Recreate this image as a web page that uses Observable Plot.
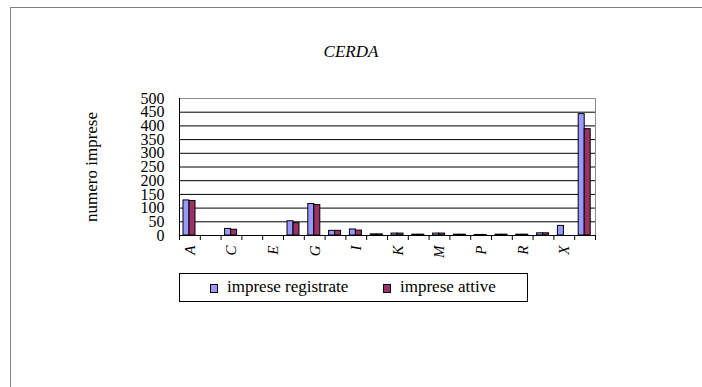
<!DOCTYPE html>
<html>
<head>
<meta charset="utf-8">
<script src="https://cdn.jsdelivr.net/npm/d3@7"></script>
<script src="https://cdn.jsdelivr.net/npm/@observablehq/plot@0.6"></script>
<style>
  html, body { margin: 0; padding: 0; background: #fff; }
  body { width: 702px; height: 387px; position: relative; overflow: hidden; }
  .serif { font-family: "Liberation Serif", "DejaVu Serif", serif; color: #000; }
  #frame { position: absolute; left: 10px; top: 7px; width: 720px; height: 400px; border-left: 1px solid #808080; border-top: 1px solid #808080; }
  #title { position: absolute; left: 0; top: 42px; width: 702px; text-align: center; font-style: italic; font-size: 17px; }
  #ylabel { position: absolute; left: 92px; top: 167px; transform: translate(-50%, -50%) rotate(-90deg); white-space: nowrap; font-size: 17px; }
  #chart { position: absolute; left: 0; top: 0; }
  #legend { position: absolute; left: 179px; top: 273px; width: 347px; height: 27px; border: 1px solid #000; font-size: 17px; }
  .item { position: absolute; top: 3px; line-height: 20px; white-space: nowrap; }
  .sw { position: absolute; width: 6px; height: 7px; border: 1px solid #000; top: 10px; }
</style>
</head>
<body>
<div id="frame"></div>
<div id="title" class="serif">CERDA</div>
<div id="ylabel" class="serif">numero imprese</div>
<div id="chart"></div>
<div id="legend" class="serif"></div>
<script>
const categories = ["A","B","C","D","E","F","G","H","I","J","K","L","M","N","P","Q","R","S","X","Totale"];
const registrate = [128,0,24,0,0,52,115,17,22,4,7,3,7,3,2,3,3,8,35,443];
const attive     = [126,0,21,0,0,45,111,17,18,4,7,3,7,3,2,3,3,8,0,388];
const tickLabels = ["A","C","E","G","I","K","M","P","R","X"];
const yTicks = [0,50,100,150,200,250,300,350,400,450,500];
const seriesNames = ["imprese registrate","imprese attive"];
const seriesColors = ["#9999FF","#993366"];

const W = 702, H = 270, mL = 179, mR = 107, mT = 98, mB = 35;
const half = (W - mL - mR) / categories.length / 2;

const rows = categories.map((c, i) => ({cat: c, reg: registrate[i], att: attive[i]}));

const chart = Plot.plot({
  width: W, height: H,
  marginLeft: mL, marginRight: mR, marginTop: mT, marginBottom: mB,
  style: {fontFamily: "Liberation Serif, DejaVu Serif, serif", background: "transparent", color: "#000"},
  x: {domain: categories, padding: 0, round: false, axis: null},
  y: {domain: [0, 500], axis: null},
  marks: [
    Plot.gridY(yTicks.filter(v => v > 0 && v < 500), {stroke: "#000", strokeOpacity: 1}),
    Plot.frame({stroke: "#8c8c8c"}),
    Plot.barY(rows.filter(d => d.reg > 0), {x: "cat", y: "reg", fill: seriesColors[0], stroke: "#000", strokeWidth: 1, insetLeft: 4, insetRight: 2 * half - 10}),
    Plot.barY(rows.filter(d => d.att > 0), {x: "cat", y: "att", fill: seriesColors[1], stroke: "#000", strokeWidth: 1, insetLeft: 10, insetRight: 2 * half - 16}),
    Plot.ruleY([0], {stroke: "#000"}),
    Plot.ruleX([categories[0]], {y1: 0, y2: 500, dx: -half, stroke: "#000"}),
    Plot.axisX(categories, {tickSize: 5, text: null, dx: -half, stroke: "#000", label: null}),
    Plot.axisX([categories[categories.length - 1]], {tickSize: 5, text: null, dx: half, stroke: "#000", label: null}),
    Plot.axisX(tickLabels, {tickSize: 0, tickPadding: 10, tickRotate: -90, fontSize: 15, fontStyle: "italic", label: null}),
    Plot.axisY(yTicks, {tickSize: 0, tickPadding: 15, fontSize: 16, label: null})
  ]
});
document.getElementById("chart").appendChild(chart);

const legend = document.getElementById("legend");
const swX = [30, 203];
seriesNames.forEach((name, i) => {
  const sw = document.createElement("div");
  sw.className = "sw";
  sw.style.left = swX[i] + "px";
  sw.style.background = seriesColors[i];
  legend.appendChild(sw);
  const t = document.createElement("div");
  t.className = "item serif";
  t.style.left = (swX[i] + 17) + "px";
  t.textContent = name;
  legend.appendChild(t);
});
</script>
</body>
</html>
